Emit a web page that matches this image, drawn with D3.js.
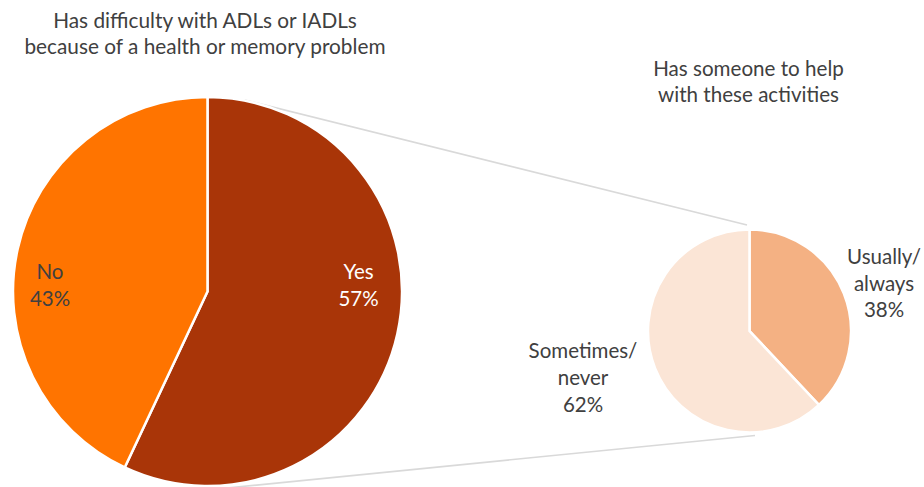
<!DOCTYPE html>
<html>
<head>
<meta charset="utf-8">
<script src="https://cdn.jsdelivr.net/npm/d3@7"></script>
<style>
  html, body { margin: 0; padding: 0; background: #fff; }
  svg text { font-family: Lato, "Liberation Sans", sans-serif; fill: #404040; }
</style>
</head>
<body>
<svg id="chart" width="924" height="487"></svg>
<script>
// Primary pie: difficulty with ADLs / IADLs
const mainCategories = ["Yes", "No"];
const mainValues = [57, 43];
const mainColors = ["#A93508", "#FF7400"];
const mainLabelColors = ["#ffffff", "#404040"];

// Secondary pie: help available among those with difficulty
const subCategories = ["Usually/always", "Sometimes/never"];
const subValues = [38, 62];
const subColors = ["#F4B183", "#FBE5D6"];

const mainTitle = ["Has difficulty with ADLs or IADLs", "because of a health or memory problem"];
const subTitle = ["Has someone to help", "with these activities"];

const svg = d3.select("#chart");

const big = { cx: 207.5, cy: 291.5, r: 194.5 };
const small = { cx: 749.5, cy: 331, r: 101.5 };

const pie = d3.pie().sort(null).value(d => d.value).startAngle(0).endAngle(2 * Math.PI);

// connector lines linking the "Yes" slice to the breakdown pie
const polar = (c, r, a) => [c.cx + r * Math.sin(a), c.cy - r * Math.cos(a)];
const topStart = polar(big, big.r + 0.5, 11 * Math.PI / 180);
const topEnd = [small.cx - 2.5, small.cy - small.r - 4.5];
const botStart = [big.cx - 0.5, big.cy + big.r + 4];
const botEnd = [small.cx + 5.5, small.cy + small.r + 3];

const conn = svg.append("g").attr("stroke", "#D9D9D9").attr("stroke-width", 1.6).attr("fill", "none");
conn.append("line").attr("x1", topStart[0]).attr("y1", topStart[1]).attr("x2", topEnd[0]).attr("y2", topEnd[1]);
conn.append("line").attr("x1", botStart[0]).attr("y1", botStart[1]).attr("x2", botEnd[0]).attr("y2", botEnd[1]);

function drawPie(center, cats, vals, colors) {
  const data = cats.map((c, i) => ({ name: c, value: vals[i], color: colors[i] }));
  const arcs = pie(data);
  const arc = d3.arc().innerRadius(0).outerRadius(center.r);
  const g = svg.append("g").attr("transform", `translate(${center.cx},${center.cy})`);
  g.selectAll("path").data(arcs).join("path")
    .attr("d", arc)
    .attr("fill", d => d.data.color)
    .attr("stroke", "#ffffff")
    .attr("stroke-width", 2.5)
    .attr("stroke-linejoin", "miter");
  return arcs;
}

const mainArcs = drawPie(big, mainCategories, mainValues, mainColors);
const subArcs = drawPie(small, subCategories, subValues, subColors);

function multiline(x, y, lines, size, lh, color) {
  const t = svg.append("text")
    .attr("x", x).attr("y", y)
    .attr("text-anchor", "middle")
    .style("font-size", size + "px");
  if (color) t.style("fill", color);
  lines.forEach((l, i) => {
    t.append("tspan").attr("x", x).attr("dy", i === 0 ? 0 : lh).text(l);
  });
  return t;
}

// titles
multiline(205, 27.5, mainTitle, 20.8, 26);
multiline(748.5, 76, subTitle, 20.6, 25.5);

// data labels
const pct = v => v + "%";
multiline(358.5, 279, [mainCategories[0], pct(mainValues[0])], 20.5, 26.5, mainLabelColors[0]);
multiline(50, 279, [mainCategories[1], pct(mainValues[1])], 20.5, 26.5, mainLabelColors[1]);
multiline(884, 264, ["Usually/", "always", pct(subValues[0])], 20.5, 26.7);
multiline(583, 358, ["Sometimes/", "never", pct(subValues[1])], 20.5, 26.8);
</script>
</body>
</html>
